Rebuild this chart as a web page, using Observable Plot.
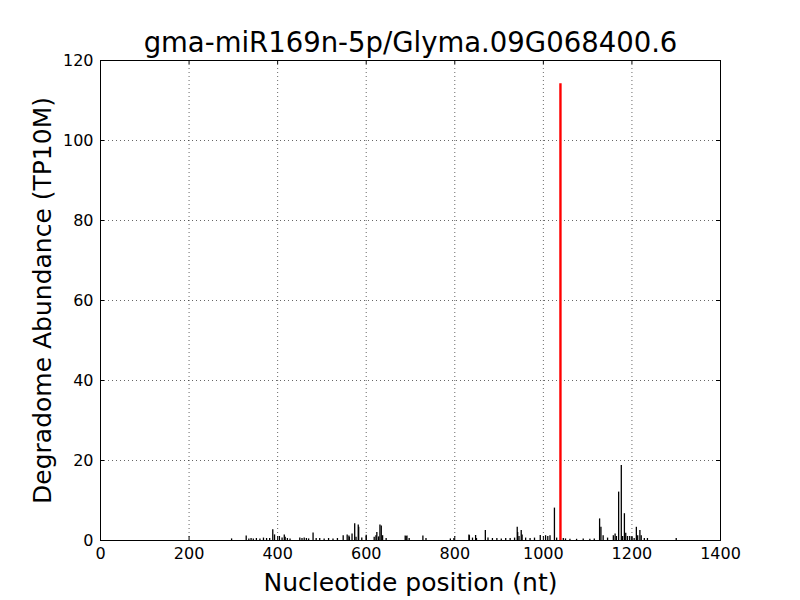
<!DOCTYPE html>
<html><head><meta charset="utf-8">
<script src="https://cdn.jsdelivr.net/npm/d3@7"></script>
<script src="https://cdn.jsdelivr.net/npm/@observablehq/plot@0.6"></script>
<style>body{margin:0;background:#fff} svg{font-family:"DejaVu Sans"}</style>
</head><body><div id="chart"></div><script>
const title = "gma-miR169n-5p/Glyma.09G068400.6";
const xLabel = "Nucleotide position (nt)";
const yLabel = "Degradome Abundance (TP10M)";
const xTicks = [0, 200, 400, 600, 800, 1000, 1200, 1400];
const yTicks = [0, 20, 40, 60, 80, 100, 120];

// degradome tags (black)
const positions = [296, 329, 335, 340, 345, 352, 360, 368, 375, 382, 389, 393, 404, 410, 415, 417, 422, 428,
  450, 455, 460, 465, 470, 480, 487, 495, 505, 515, 525, 535, 548, 557, 561, 562, 568, 574, 577, 582, 583,
  590, 600, 618, 622, 624, 628, 631, 634, 637, 645, 688, 690, 692, 697, 728, 735, 790, 798, 832, 833, 840,
  847, 849, 869, 875, 885, 895, 905, 915, 925, 935, 941, 942, 945, 950, 952, 960, 970, 980, 993, 1005, 1010,
  1015, 1025, 1030, 1045, 1050, 1060, 1075, 1090, 1105, 1115, 1127, 1130, 1135, 1145, 1158, 1162, 1165,
  1170, 1176, 1179, 1183, 1186, 1190, 1195, 1200, 1205, 1210, 1213, 1218, 1221, 1228, 1235, 1300];
const values = [0.4, 1.1, 0.4, 0.5, 0.4, 0.5, 0.4, 0.6, 0.5, 0.5, 2.7, 1.4, 1.0, 0.6, 1.4, 0.8, 0.5, 0.4,
  0.6, 0.5, 0.6, 0.5, 0.4, 1.9, 0.5, 0.5, 0.4, 0.5, 0.4, 0.5, 1.2, 1.4, 1.1, 0.8, 1.6, 4.2, 0.8, 3.9, 3.3,
  0.6, 1.3, 0.8, 1.2, 2.0, 0.9, 3.9, 3.6, 1.2, 0.5, 1.1, 1.0, 1.1, 0.5, 1.1, 0.5, 0.4, 0.5, 1.4, 1.2, 0.6,
  1.25, 0.5, 2.5, 0.6, 0.5, 0.5, 0.4, 0.5, 0.5, 0.6, 3.3, 2.0, 1.0, 2.5, 1.4, 0.6, 0.5, 0.6, 1.25, 1.2, 1.0,
  1.2, 8.1, 0.6, 0.5, 0.4, 0.3, 0.3, 0.4, 0.3, 0.4, 5.4, 3.3, 1.2, 0.6, 1.2, 1.6, 1.0, 12.1, 18.75, 1.0,
  6.7, 1.8, 1.0, 1.0, 0.8, 0.5, 3.3, 1.2, 2.5, 1.2, 0.5, 0.5, 0.5];

// miRNA target site (red)
const sitePos = [1038.6];
const siteVal = [114.2];

const tags = positions.map((p, i) => ({pos: p, val: values[i]}));
const site = sitePos.map((p, i) => ({pos: p, val: siteVal[i]}));

const tickLenY = 4 / 4;            // 4px in y units (480px / 120)
const tickLenX = 4 * 1400 / 620;   // 4px in x units

const chart = Plot.plot({
  width: 800, height: 600,
  marginLeft: 100, marginRight: 80, marginTop: 60, marginBottom: 60,
  style: {fontFamily: "DejaVu Sans", color: "black", background: "white"},
  x: {domain: [0, 1400]},
  y: {domain: [0, 120]},
  marks: [
    Plot.gridX(xTicks, {stroke: "#000", strokeOpacity: 1, strokeWidth: 0.6, strokeDasharray: "1,3"}),
    Plot.gridY(yTicks, {stroke: "#000", strokeOpacity: 1, strokeWidth: 0.6, strokeDasharray: "1,3"}),
    Plot.ruleY([0], {x1: 0, x2: 1300, stroke: "black", strokeWidth: 1}),
    Plot.ruleX(tags, {x: "pos", y1: 0, y2: "val", stroke: "black", strokeWidth: 1.3}),
    Plot.ruleX(site, {x: "pos", y1: 0, y2: "val", stroke: "#ff0000", strokeWidth: 2.4}),
    // inward ticks on all sides
    Plot.ruleX(xTicks, {x: d => d, y1: 0, y2: tickLenY, stroke: "black"}),
    Plot.ruleX(xTicks, {x: d => d, y1: 120, y2: 120 - tickLenY, stroke: "black"}),
    Plot.ruleY(yTicks, {y: d => d, x1: 0, x2: tickLenX, stroke: "black"}),
    Plot.ruleY(yTicks, {y: d => d, x1: 1400, x2: 1400 - tickLenX, stroke: "black"}),
    Plot.axisX(xTicks, {tickSize: 0, tickPadding: 7, fontSize: 16, label: null, tickFormat: d => String(d)}),
    Plot.axisY(yTicks, {tickSize: 0, tickPadding: 7, fontSize: 16, label: null, tickFormat: d => String(d)}),
    Plot.frame({stroke: "black", strokeWidth: 1}),
    Plot.text([title], {frameAnchor: "top", dy: -17, fontSize: 27.5, lineAnchor: "middle", textAnchor: "middle", fill: "black"}),
    Plot.text([xLabel], {frameAnchor: "bottom", dy: 42, fontSize: 25, lineAnchor: "middle", textAnchor: "middle", fill: "black"}),
    Plot.text([yLabel], {frameAnchor: "left", dx: -58, rotate: -90, fontSize: 25, lineAnchor: "middle", textAnchor: "middle", fill: "black"})
  ]
});
document.getElementById("chart").appendChild(chart);
</script></body></html>
